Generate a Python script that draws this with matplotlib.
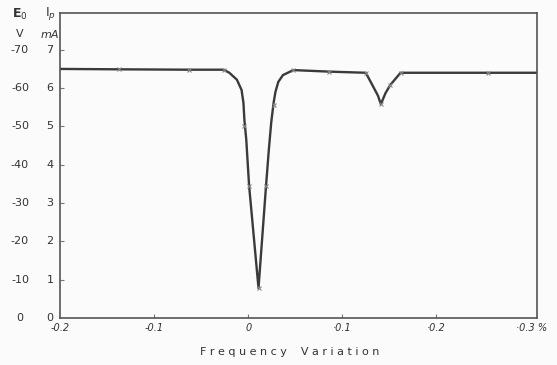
import matplotlib
matplotlib.use("Agg")
import matplotlib.pyplot as plt
import matplotlib.transforms as mtransforms

# Curve (frequency variation %, plate current mA)
curve_x = [-0.200, -0.137, -0.063, -0.026, -0.020, -0.012, -0.007, -0.005, -0.004,
           -0.002, 0.001, 0.011, 0.019, 0.022, 0.0245, 0.027, 0.029, 0.032, 0.037,
           0.048, 0.086, 0.125, 0.132, 0.138, 0.141, 0.146, 0.151, 0.162, 0.255,
           0.307]
curve_y = [6.50, 6.49, 6.48, 6.48, 6.40, 6.22, 5.95, 5.61, 5.17,
           4.65, 3.45, 0.78, 3.45, 4.40, 5.10, 5.61, 5.90, 6.16, 6.34,
           6.47, 6.43, 6.40, 6.08, 5.80, 5.58, 5.87, 6.08, 6.40, 6.40,
           6.40]
# Measured points (x markers)
pts_x = [-0.137, -0.063, -0.026, -0.004, 0.001, 0.011, 0.019, 0.027, 0.048,
         0.086, 0.125, 0.141, 0.151, 0.162, 0.255]
pts_y = [6.49, 6.48, 6.48, 5.00, 3.45, 0.78, 3.45, 5.56, 6.47,
         6.43, 6.40, 5.58, 6.08, 6.40, 6.40]

x_ticks = [-0.2, -0.1, 0.0, 0.1, 0.2, 0.3]
x_labels = ["-0.2", "-0.1", "0", "·0.1", "·0.2", "·0.3 %"]
ip_ticks = [0, 1, 2, 3, 4, 5, 6, 7]
eo_labels = ["0", "-10", "-20", "-30", "-40", "-50", "-60", "-70"]

ink = "#3a3a3a"
fig = plt.figure(figsize=(5.57, 3.65), dpi=100)
fig.patch.set_facecolor("#fbfbfb")
ax = fig.add_axes([0.1077, 0.1288, 0.8564, 0.8356])
ax.set_facecolor("#fbfbfb")

ax.plot(curve_x, curve_y, color=ink, lw=1.7, solid_capstyle="round",
        solid_joinstyle="round")
ax.plot(pts_x, pts_y, ls="none", marker="x", ms=3, mew=0.8, color="#888888")

ax.set_xlim(-0.2, 0.307)
ax.set_ylim(0, 7.96)
for s in ax.spines.values():
    s.set_color("#555555")
    s.set_linewidth(1.2)

ax.set_xticks(x_ticks[1:-1])
ax.set_xticklabels([])
ax.set_yticks(ip_ticks[1:])
ax.set_yticklabels([])
ax.tick_params(direction="in", length=3, color="#777777", width=0.8)

fs = 8
tc = "#333333"
# x tick labels
xtr = mtransforms.blended_transform_factory(ax.transData, fig.transFigure)
for xv, lab in zip(x_ticks, x_labels):
    xx = xv if xv < 0.3 else 0.301
    ax.text(xx, 1 - 328 / 365, lab, transform=xtr, ha="center", va="center",
            fontsize=fs - 1, color=tc, fontstyle="italic")

# y label columns
ytr = mtransforms.blended_transform_factory(fig.transFigure, ax.transData)
for yv, lab in zip(ip_ticks, eo_labels):
    ax.text(20 / 557, yv, lab, transform=ytr, ha="center", va="center",
            fontsize=fs, color=tc, clip_on=False)
    ax.text(50 / 557, yv, str(yv), transform=ytr, ha="center", va="center",
            fontsize=fs, color=tc, clip_on=False)

fig.text(20 / 557, 1 - 14 / 365, r"E$_0$", ha="center", va="center", fontsize=9,
         color=tc, fontweight="bold")
fig.text(50 / 557, 1 - 14 / 365, r"I$_p$", ha="center", va="center", fontsize=9,
         color=tc)
fig.text(20 / 557, 1 - 34 / 365, "V", ha="center", va="center", fontsize=fs,
         color=tc)
fig.text(50 / 557, 1 - 35 / 365, "mA", ha="center", va="center", fontsize=fs,
         color=tc, fontstyle="italic")

fig.text(290 / 557, 1 - 352 / 365, "F r e q u e n c y    V a r i a t i o n",
         ha="center", va="center", fontsize=8, color=tc)

fig.savefig("out.png", dpi=100, facecolor=fig.get_facecolor())
